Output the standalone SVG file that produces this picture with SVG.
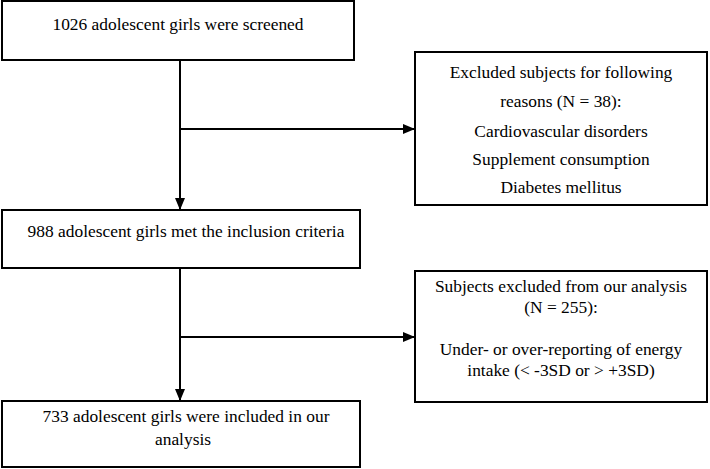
<svg xmlns="http://www.w3.org/2000/svg" width="710" height="469" viewBox="0 0 710 469">
<defs>
<marker id="ah" markerWidth="12" markerHeight="10" refX="11" refY="5" orient="auto" markerUnits="userSpaceOnUse">
<path d="M0,0 L12,5 L0,10 Z" fill="#000"/>
</marker>
</defs>
<style>
rect{fill:#fff;stroke:#000;stroke-width:2}
text{font-family:'Liberation Serif','Times New Roman',Times,serif;font-size:17.4px;fill:#000;text-anchor:middle}
.c{stroke:#000;stroke-width:2;fill:none}
</style>
<rect width="710" height="469" style="stroke:none"/>
<g id="n1"><rect x="2" y="1" width="352" height="59"/><text x="178" y="30">1026 adolescent girls were screened</text></g>
<g id="n2"><rect x="415" y="52" width="292" height="153"/>
<text x="561" y="78">Excluded subjects for following</text>
<text x="561" y="107">reasons (N = 38):</text>
<text x="561" y="137">Cardiovascular disorders</text>
<text x="561" y="165">Supplement consumption</text>
<text x="561" y="193">Diabetes mellitus</text></g>
<g id="n3"><rect x="2" y="210" width="358" height="58"/><text x="186" y="237">988 adolescent girls met the inclusion criteria</text></g>
<g id="n4"><rect x="415" y="271" width="292" height="131"/>
<text x="561" y="292">Subjects excluded from our analysis</text>
<text x="561" y="313">(N = 255):</text>
<text x="561" y="355">Under- or over-reporting of energy</text>
<text x="561" y="376">intake (&lt; -3SD or &gt; +3SD)</text></g>
<g id="n5"><rect x="2" y="401" width="358" height="66"/>
<text x="186" y="422">733 adolescent girls were included in our</text>
<text x="183" y="445">analysis</text></g>
<g id="connectors">
<path class="c" d="M180,60 V209" marker-end="url(#ah)"/>
<path class="c" d="M180,129 H414" marker-end="url(#ah)"/>
<path class="c" d="M180,268 V400" marker-end="url(#ah)"/>
<path class="c" d="M180,337 H414" marker-end="url(#ah)"/>
</g>
</svg>
